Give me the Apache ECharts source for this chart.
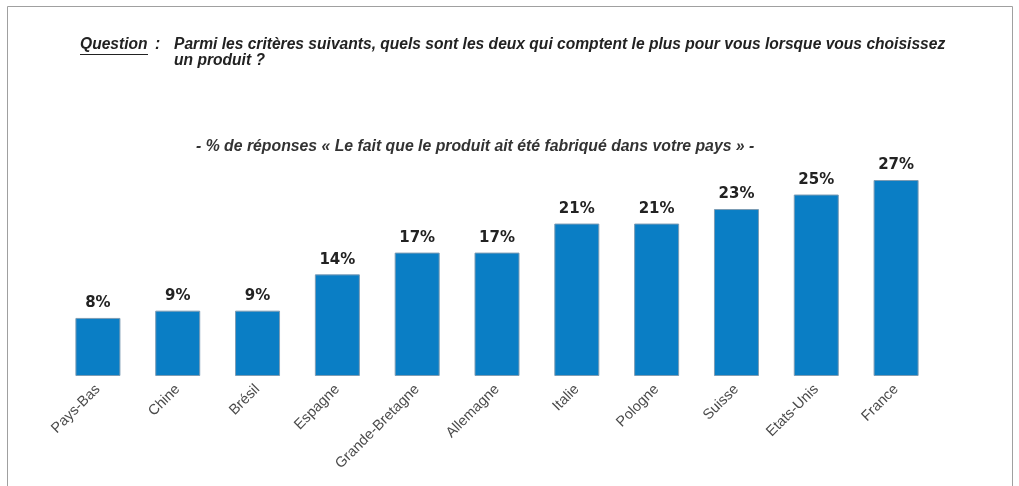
<!DOCTYPE html>
<html><head><meta charset="utf-8">
<script src="https://cdn.jsdelivr.net/npm/echarts@6/dist/echarts.min.js"></script>
<style>html,body{margin:0;padding:0;background:#fff}#c{width:1019px;height:486px}</style>
</head><body><div id="c"></div>
<script>
const categories = ['Pays-Bas','Chine','Brésil','Espagne','Grande-Bretagne','Allemagne','Italie','Pologne','Suisse','Etats-Unis','France'];
const values = [8, 9, 9, 14, 17, 17, 21, 21, 23, 25, 27];
const questionWord = 'Question';
const questionColon = ':';
const questionLine1 = 'Parmi les critères suivants, quels sont les deux qui comptent le plus pour vous lorsque vous choisissez';
const questionLine2 = 'un produit ?';
const subtitle = '- % de réponses « Le fait que le produit ait été fabriqué dans votre pays » -';

const chart = echarts.init(document.getElementById('c'), null, {renderer:'canvas'});
const tFont = {fontFamily:'Liberation Sans', fontWeight:'bold', fontStyle:'italic', fontSize:15.6, fill:'#222'};
chart.setOption({
  animation:false,
  backgroundColor:'#fff',
  graphic:[
    {type:'rect', shape:{x:7.5,y:6.5,width:1005,height:490}, style:{fill:'none', stroke:'#a0a0a0', lineWidth:1}, silent:true},
    {type:'text', left:80, top:37, style:Object.assign({text:questionWord}, tFont)},
    {type:'text', left:155, top:37, style:Object.assign({text:questionColon}, tFont)},
    {type:'line', shape:{x1:80,y1:54.5,x2:148,y2:54.5}, style:{stroke:'#222', lineWidth:1}},
    {type:'text', left:174, top:37, style:Object.assign({text:questionLine1}, tFont)},
    {type:'text', left:174, top:53, style:Object.assign({text:questionLine2}, tFont)},
    {type:'text', left:196, top:139, style:Object.assign({text:subtitle}, tFont, {fill:'#333', fontSize:15.8})}
  ],
  grid:{left:58, right:83, top:180, bottom:110, containLabel:false},
  xAxis:{type:'category', data:categories,
    axisLine:{show:false}, axisTick:{show:false},
    axisLabel:{rotate:45, interval:0, margin:11, color:'#4a4a4a', fontSize:14.5, fontFamily:'Liberation Sans'}},
  yAxis:{type:'value', min:0, max:27, show:false, splitLine:{show:false}},
  series:[{type:'bar', data:values, barWidth:45,
    itemStyle:{color:'#0A7EC5', borderColor:'#7c9cb4', borderWidth:1},
    label:{show:true, position:'top', distance:7, formatter:'{c}%', color:'#222', fontWeight:'bold', fontSize:15, fontFamily:'DejaVu Sans'}}]
});
</script></body></html>
